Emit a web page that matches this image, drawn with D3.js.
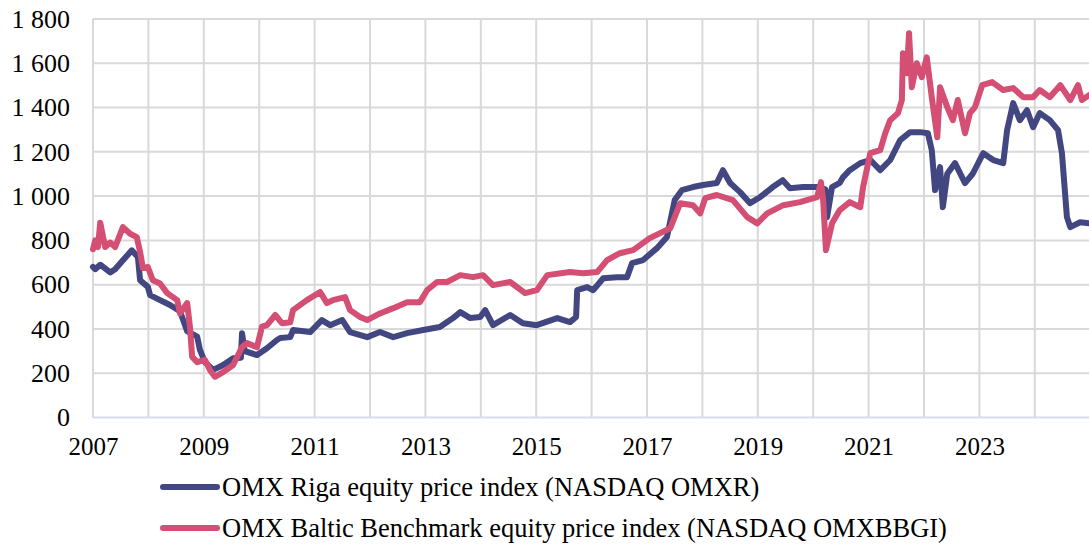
<!DOCTYPE html>
<html>
<head>
<meta charset="utf-8">
<script src="https://cdn.jsdelivr.net/npm/d3@7"></script>
<style>
  html, body { margin: 0; padding: 0; background: #fff; }
  svg { display: block; font-family: "Liberation Serif", "Times New Roman", serif; }
  .grid line { stroke: #d9d9d9; stroke-width: 2; }
  .axis text { fill: #000; font-family: "Liberation Serif", "Times New Roman", serif; }
  .y-axis text { font-size: 26px; }
  .x-axis text { font-size: 25px; }
</style>
</head>
<body>
<div id="chart"></div>
<script>
// decimal years / index values
const rigaYears = [2007.00, 2007.04, 2007.13, 2007.31, 2007.40, 2007.54, 2007.70, 2007.81, 2007.85, 2007.99,
  2008.03, 2008.21, 2008.39, 2008.57, 2008.70, 2008.88, 2008.93, 2009.02, 2009.17, 2009.35,
  2009.53, 2009.67, 2009.69, 2009.74, 2009.96, 2010.14, 2010.32, 2010.38, 2010.56, 2010.61,
  2010.92, 2011.13, 2011.28, 2011.50, 2011.64, 2011.95, 2012.18, 2012.42, 2012.67, 2012.96,
  2013.26, 2013.50, 2013.63, 2013.81, 2013.99, 2014.08, 2014.22, 2014.53, 2014.76, 2015.01,
  2015.38, 2015.61, 2015.72, 2015.74, 2015.92, 2016.03, 2016.21, 2016.46, 2016.64, 2016.73,
  2016.93, 2017.18, 2017.36, 2017.50, 2017.63, 2017.83, 2018.01, 2018.26, 2018.37, 2018.50,
  2018.68, 2018.86, 2019.04, 2019.27, 2019.45, 2019.58, 2019.82, 2020.07, 2020.22, 2020.25,
  2020.34, 2020.48, 2020.54, 2020.66, 2020.85, 2021.03, 2021.21, 2021.39, 2021.57, 2021.75,
  2021.93, 2022.07, 2022.14, 2022.20, 2022.29, 2022.34, 2022.42, 2022.56, 2022.74, 2022.88,
  2023.07, 2023.25, 2023.43, 2023.50, 2023.61, 2023.73, 2023.86, 2023.97, 2024.09, 2024.27,
  2024.42, 2024.49, 2024.58, 2024.64, 2024.82, 2024.98];
const rigaValues = [680, 670, 690, 655, 670, 710, 755, 725, 620, 590,
  553, 530, 508, 480, 390, 365, 305, 250, 215, 237,
  268, 270, 381, 300, 282, 313, 350, 359, 363, 395,
  386, 440, 417, 440, 386, 363, 386, 363, 381, 395,
  409, 449, 476, 449, 454, 485, 417, 463, 426, 417,
  449, 431, 454, 575, 589, 575, 629, 634, 634, 697,
  711, 765, 815, 982, 1027, 1041, 1050, 1059, 1117, 1059,
  1018, 968, 995, 1041, 1072, 1036, 1041, 1041, 1030, 905,
  1041, 1060, 1086, 1117, 1149, 1163, 1117, 1163, 1253, 1289,
  1289, 1284, 1208, 1027, 1131, 950, 1101, 1149, 1059, 1101,
  1194, 1163, 1149, 1298, 1420, 1343, 1388, 1311, 1375, 1343,
  1298, 1194, 905, 860, 882, 877];

const balticYears = [2007.00, 2007.04, 2007.09, 2007.13, 2007.22, 2007.31, 2007.40, 2007.54, 2007.67, 2007.79,
  2007.85, 2007.90, 2007.99, 2008.08, 2008.21, 2008.34, 2008.52, 2008.57, 2008.70, 2008.75,
  2008.79, 2008.88, 2009.02, 2009.11, 2009.20, 2009.35, 2009.53, 2009.69, 2009.78, 2009.96,
  2010.05, 2010.14, 2010.29, 2010.41, 2010.56, 2010.61, 2010.86, 2011.10, 2011.22, 2011.33,
  2011.55, 2011.64, 2011.82, 2011.95, 2012.18, 2012.42, 2012.67, 2012.90, 2013.03, 2013.21,
  2013.39, 2013.63, 2013.86, 2014.04, 2014.22, 2014.53, 2014.80, 2015.01, 2015.20, 2015.61,
  2015.85, 2016.10, 2016.28, 2016.51, 2016.75, 2017.05, 2017.42, 2017.60, 2017.83, 2017.96,
  2018.05, 2018.26, 2018.55, 2018.81, 2018.99, 2019.17, 2019.46, 2019.76, 2020.07, 2020.14,
  2020.18, 2020.23, 2020.34, 2020.48, 2020.66, 2020.85, 2020.90, 2021.03, 2021.21, 2021.30,
  2021.39, 2021.53, 2021.60, 2021.62, 2021.69, 2021.73, 2021.78, 2021.87, 2021.96, 2022.05,
  2022.14, 2022.24, 2022.29, 2022.42, 2022.52, 2022.61, 2022.74, 2022.83, 2022.92, 2023.05,
  2023.23, 2023.43, 2023.61, 2023.79, 2023.97, 2024.09, 2024.27, 2024.46, 2024.64, 2024.78,
  2024.85, 2024.98];
const balticValues = [760, 800, 770, 880, 770, 790, 770, 860, 830, 815,
  748, 675, 680, 620, 605, 562, 530, 470, 517, 410,
  274, 250, 260, 215, 184, 205, 237, 318, 336, 318,
  410, 417, 463, 426, 430, 485, 530, 567, 517, 530,
  544, 485, 454, 440, 470, 494, 521, 521, 575, 612,
  612, 643, 634, 643, 598, 612, 562, 575, 643, 657,
  652, 657, 711, 742, 756, 810, 855, 968, 959, 922,
  991, 1005, 982, 905, 877, 922, 959, 973, 995, 1063,
  982, 756, 877, 937, 973, 950, 1041, 1194, 1208, 1284,
  1343, 1375, 1434, 1645, 1555, 1736, 1492, 1600, 1537, 1627,
  1447, 1266, 1492, 1402, 1343, 1434, 1284, 1375, 1402, 1501,
  1515, 1479, 1488, 1447, 1447, 1479, 1447, 1501, 1434, 1501,
  1434, 1456];

const yTicks = [0, 200, 400, 600, 800, 1000, 1200, 1400, 1600, 1800];
const xTicks = d3.range(2007, 2025);
const xLabelYears = [2007, 2009, 2011, 2013, 2015, 2017, 2019, 2021, 2023];

const seriesNames = [
  'OMX Riga equity price index (NASDAQ OMXR)',
  'OMX Baltic Benchmark equity price index (NASDAQ OMXBBGI)',
];
const seriesColors = ['#434781', '#d44f73'];

class IndexLineChart {
  constructor(_config, _data) {
    this.config = {
      parentElement: _config.parentElement,
      containerWidth: 1089,
      containerHeight: 544,
      margin: { top: 19, right: 0, bottom: 126.5, left: 93 },
    };
    this.data = _data;
    this.initVis();
  }

  initVis() {
    const vis = this;

    vis.width = vis.config.containerWidth - vis.config.margin.left - vis.config.margin.right;
    vis.height = vis.config.containerHeight - vis.config.margin.top - vis.config.margin.bottom;

    vis.svg = d3.select(vis.config.parentElement).append('svg')
      .attr('width', vis.config.containerWidth)
      .attr('height', vis.config.containerHeight);

    vis.chart = vis.svg.append('g')
      .attr('transform', `translate(${vis.config.margin.left},${vis.config.margin.top})`);

    // one year is about 55.4px, the plot runs to the end of 2024
    vis.xScale = d3.scaleLinear().domain([2007, 2025]).range([0, 18 * 55.4]);
    vis.yScale = d3.scaleLinear().domain([0, 1800]).range([vis.height, 0]);

    const fmt = d3.formatLocale({ decimal: '.', thousands: ' ', grouping: [3], currency: ['', ''] }).format(',');

    // grid
    vis.chart.append('g').attr('class', 'grid')
      .selectAll('line.h').data(yTicks.filter((d) => d > 0)).join('line')
      .attr('x1', 0).attr('x2', vis.width)
      .attr('y1', (d) => vis.yScale(d)).attr('y2', (d) => vis.yScale(d));

    vis.chart.append('g').attr('class', 'grid')
      .selectAll('line.v').data(xTicks).join('line')
      .attr('x1', (d) => vis.xScale(d)).attr('x2', (d) => vis.xScale(d))
      .attr('y1', 0).attr('y2', vis.height);

    // bottom axis line
    vis.chart.append('line')
      .attr('x1', 0).attr('x2', vis.width)
      .attr('y1', vis.height).attr('y2', vis.height)
      .attr('stroke', '#dadaee').attr('stroke-width', 2);

    // axes
    vis.yAxis = d3.axisLeft(vis.yScale).tickValues(yTicks).tickSize(0).tickPadding(23).tickFormat(fmt);
    vis.yAxisG = vis.chart.append('g').attr('class', 'axis y-axis').call(vis.yAxis);
    vis.yAxisG.select('.domain').remove();

    vis.xAxis = d3.axisBottom(vis.xScale).tickValues(xLabelYears).tickSize(0).tickPadding(20).tickFormat(d3.format('d'));
    vis.xAxisG = vis.chart.append('g').attr('class', 'axis x-axis')
      .attr('transform', `translate(0,${vis.height})`).call(vis.xAxis);
    vis.xAxisG.select('.domain').remove();

    vis.line = d3.line()
      .x((d) => vis.xScale(d[0]))
      .y((d) => vis.yScale(d[1]));

    vis.renderVis();
  }

  renderVis() {
    const vis = this;

    vis.chart.selectAll('.series').data(vis.data).join('path')
      .attr('class', 'series')
      .attr('fill', 'none')
      .attr('stroke', (d, i) => seriesColors[i])
      .attr('stroke-width', 6)
      .attr('stroke-linejoin', 'round')
      .attr('stroke-linecap', 'round')
      .attr('d', (d) => vis.line(d));

    // legend
    const legend = vis.svg.append('g').selectAll('g').data(seriesNames).join('g')
      .attr('transform', (d, i) => `translate(163,${487 + i * 41})`);
    legend.append('line')
      .attr('x1', 0).attr('x2', 54).attr('y1', 0).attr('y2', 0)
      .attr('stroke', (d, i) => seriesColors[i])
      .attr('stroke-width', 6).attr('stroke-linecap', 'round');
    legend.append('text')
      .attr('x', 59).attr('y', 8.5)
      .attr('font-size', 26.5)
      .text((d) => d);
  }
}

const rigaData = rigaYears.map((t, i) => [t, rigaValues[i]]);
const balticData = balticYears.map((t, i) => [t, balticValues[i]]);

new IndexLineChart({ parentElement: '#chart' }, [rigaData, balticData]);
</script>
</body>
</html>
